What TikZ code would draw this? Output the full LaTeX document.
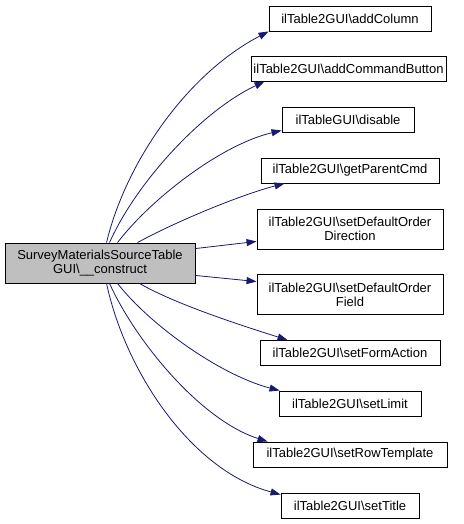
\documentclass[tikz,border=0pt]{standalone}
\usepackage{fontspec}
\setmainfont{Liberation Sans}
\usetikzlibrary{arrows.meta}
\definecolor{edgeblue}{HTML}{191970}
\definecolor{maingray}{HTML}{BFBFBF}
\begin{document}
\begin{tikzpicture}[x=1pt,y=-1pt,
  box/.style={draw=black,line width=0.9pt,fill=white,inner sep=0pt,align=center,
    font=\fontsize{13}{14}\selectfont,minimum height=25pt},
  callee/.style={draw=edgeblue,line width=0.8pt,-{Triangle[length=10pt,width=7pt]}}]
\useasboundingbox (0,0) rectangle (463,524);
\node[box,fill=maingray,minimum width=190pt,minimum height=40pt] (main) at (100,263) {SurveyMaterialsSourceTable\\GUI\textbackslash\_\_construct};
\node[box,minimum width=162pt] (n1) at (350,18.5) {ilTable2GUI\textbackslash addColumn};
\node[box,minimum width=195pt] (n2) at (348.5,68.5) {ilTable2GUI\textbackslash addCommandButton};
\node[box,minimum width=132pt] (n3) at (348,119.5) {ilTableGUI\textbackslash disable};
\node[box,minimum width=178pt] (n4) at (350,170.5) {ilTable2GUI\textbackslash getParentCmd};
\node[box,minimum width=186pt,minimum height=40pt] (n5) at (350,229) {ilTable2GUI\textbackslash setDefaultOrder\\Direction};
\node[box,minimum width=186pt,minimum height=40pt] (n6) at (350,294.5) {ilTable2GUI\textbackslash setDefaultOrder\\Field};
\node[box,minimum width=180pt] (n7) at (350,353) {ilTable2GUI\textbackslash setFormAction};
\node[box,minimum width=142pt] (n8) at (350,403.5) {ilTable2GUI\textbackslash setLimit};
\node[box,minimum width=194pt] (n9) at (350,454.5) {ilTable2GUI\textbackslash setRowTemplate};
\node[box,minimum width=138pt] (n10) at (350,505.5) {ilTable2GUI\textbackslash setTitle};
\draw[callee] ([xshift=102pt]main.north west) .. controls (125,165) and (185,75) .. (n1.south west);
\draw[callee] ([xshift=105pt]main.north west) .. controls (135,185) and (200,112) .. ([xshift=14pt]n2.south west);
\draw[callee] ([xshift=113pt]main.north west) .. controls (150,200) and (220,145) .. ([yshift=2pt]n3.south west);
\draw[callee] ([xshift=133pt]main.north west) .. controls (175,222) and (240,195) .. ([xshift=24pt]n4.south west);
\draw[callee] ([yshift=-6pt]main.north east) -- ([yshift=8pt]n5.south west);
\draw[callee] ([yshift=8pt]main.south east) -- ([yshift=-7.5pt]n6.north west);
\draw[callee] ([xshift=135pt]main.south west) .. controls (175,304) and (240,325) .. ([xshift=28pt]n7.north west);
\draw[callee] ([xshift=113pt]main.south west) .. controls (150,325) and (220,375) .. ([xshift=1pt]n8.north west);
\draw[callee] ([xshift=105pt]main.south west) .. controls (135,340) and (200,420) .. ([xshift=15pt]n9.north west);
\draw[callee] ([xshift=102pt]main.south west) .. controls (125,370) and (190,470) .. ([yshift=-2pt]n10.north west);
\end{tikzpicture}
\end{document}
